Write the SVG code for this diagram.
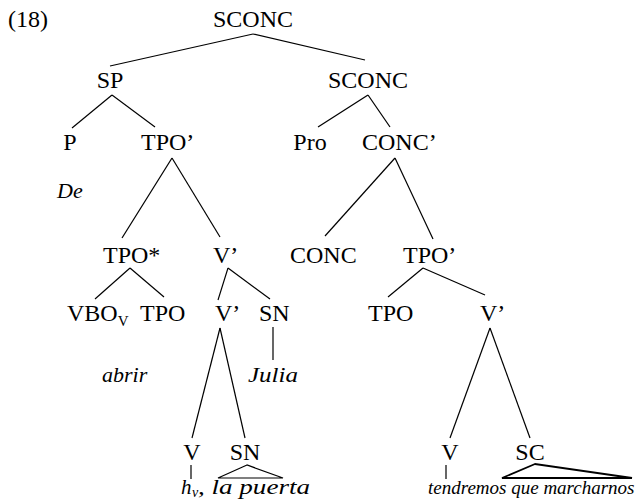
<svg xmlns="http://www.w3.org/2000/svg" width="637" height="502" viewBox="0 0 637 502">
<style>
text{font-family:"Liberation Serif","Times New Roman",serif;font-size:24px;fill:#000}
.c{text-anchor:middle}
.i{font-style:italic;font-size:22px}
.b{font-style:italic;font-size:21px}
.s{font-style:italic;font-size:19px}
.sub{font-size:15px}
.isub{font-style:italic;font-size:14px}
line,polygon{stroke:#000;stroke-width:1.2;fill:none}
.t{stroke-width:1.8}
</style>
<rect width="637" height="502" fill="#fff"/>
<text x="8" y="27">(18)</text>
<g id="connectors">
<line x1="253" y1="34" x2="110" y2="66"/>
<line x1="253" y1="34" x2="365" y2="60"/>
<line x1="112" y1="95" x2="72" y2="128"/>
<line x1="112" y1="95" x2="155" y2="127"/>
<line x1="368" y1="95" x2="318" y2="127"/>
<line x1="368" y1="95" x2="390" y2="127"/>
<line x1="172" y1="158" x2="122" y2="238"/>
<line x1="172" y1="158" x2="220" y2="237"/>
<line x1="395" y1="158" x2="325" y2="236"/>
<line x1="395" y1="158" x2="433" y2="239"/>
<line x1="130" y1="268" x2="95" y2="299"/>
<line x1="130" y1="268" x2="164" y2="297"/>
<line x1="228" y1="268" x2="218" y2="300"/>
<line x1="228" y1="268" x2="270" y2="299"/>
<line x1="423" y1="268" x2="388" y2="297"/>
<line x1="423" y1="268" x2="485" y2="295"/>
<line x1="273" y1="327" x2="273" y2="360"/>
<line x1="220" y1="328" x2="192" y2="438"/>
<line x1="220" y1="328" x2="245" y2="438"/>
<line x1="490" y1="328" x2="450" y2="438"/>
<line x1="490" y1="328" x2="530" y2="438"/>
<line x1="191" y1="465" x2="191" y2="479"/>
<polygon points="247,465 218,478 283,478"/>
<line x1="446" y1="465" x2="446" y2="479"/>
<polygon class="t" points="535,464 502,478 632,478"/>
</g>
<g id="n-sconc-top"><text class="c" x="253" y="27">SCONC</text></g>
<g id="n-sp"><text class="c" x="110" y="88">SP</text></g>
<g id="n-sconc2"><text class="c" x="368" y="88">SCONC</text></g>
<g id="n-p"><text class="c" x="70" y="150">P</text></g>
<g id="n-tpo1"><text x="141" y="150">TPO’</text></g>
<g id="n-pro"><text class="c" x="310" y="150">Pro</text></g>
<g id="n-conc1"><text x="362" y="150">CONC’</text></g>
<g id="n-de"><text class="i" x="57" y="198">De</text></g>
<g id="n-tpostar"><text x="103" y="263">TPO*</text></g>
<g id="n-v1"><text x="213" y="263">V’</text></g>
<g id="n-conc"><text x="290" y="263">CONC</text></g>
<g id="n-tpo2"><text x="403" y="263">TPO’</text></g>
<g id="n-vbo"><text x="67" y="321">VBO<tspan class="sub" dy="5">V</tspan></text></g>
<g id="n-tpo3"><text x="140" y="321">TPO</text></g>
<g id="n-v2"><text x="215" y="321">V’</text></g>
<g id="n-sn1"><text x="259" y="321">SN</text></g>
<g id="n-tpo4"><text x="368" y="321">TPO</text></g>
<g id="n-v3"><text x="480" y="321">V’</text></g>
<g id="n-abrir"><text class="i" x="102" y="382">abrir</text></g>
<g id="n-julia"><text class="i" x="248" y="382" textLength="50" lengthAdjust="spacingAndGlyphs">Julia</text></g>
<g id="n-v4"><text class="c" x="192" y="460">V</text></g>
<g id="n-sn2"><text class="c" x="245" y="460">SN</text></g>
<g id="n-v5"><text class="c" x="450" y="460">V</text></g>
<g id="n-sc"><text class="c" x="530" y="460">SC</text></g>
<g id="n-hv"><text class="b" x="181" y="494">h</text><text class="isub" x="192" y="497">v</text><text class="b" x="198" y="494" textLength="112" lengthAdjust="spacingAndGlyphs">, la puerta</text></g>
<g id="n-tendremos"><text class="s" x="428" y="494">tendremos que marcharnos</text></g>
</svg>
